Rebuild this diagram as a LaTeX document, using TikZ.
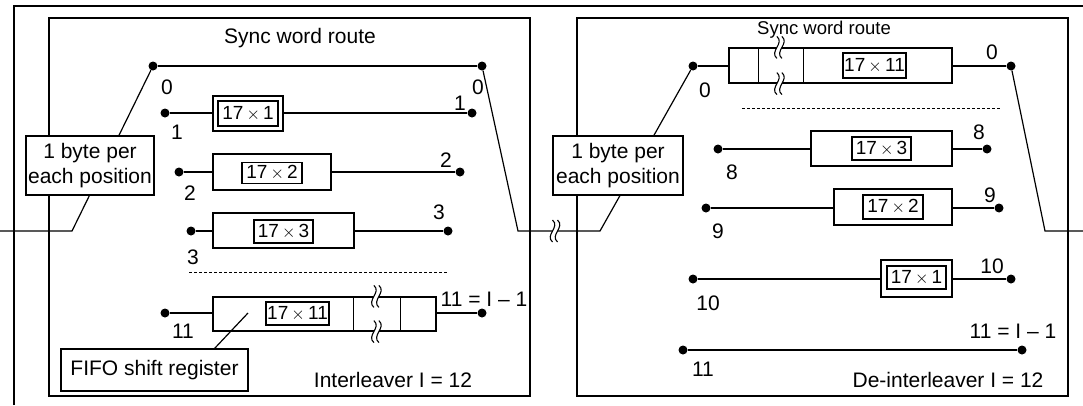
\documentclass[tikz,border=0pt]{standalone}
\usepackage{fontspec}
\setmainfont{Liberation Sans}
\newcommand{\tms}[2]{#1\,$\times$\,#2}
\begin{document}
\begin{tikzpicture}[x=1pt,y=-1pt,
  ln/.style={line width=1.2pt},
  jdot/.style={circle,fill=black,inner sep=0pt,minimum size=9pt},
  panel/.style={draw,line width=1.2pt,inner sep=0pt},
  reg/.style={draw,line width=1.2pt,fill=white,inner sep=0pt},
  ibox/.style={draw,line width=1.1pt,fill=white,inner sep=0pt,font=\fontsize{19}{22}\selectfont},
  lab/.style={inner sep=0pt,font=\fontsize{21}{25}\selectfont},
  note/.style={draw,line width=1.2pt,fill=white,inner sep=0pt,align=center,font=\fontsize{21}{25}\selectfont},
  dsh/.style={line width=0.9pt,dash pattern=on 3pt off 2pt},
  pics/brk/.style={code={
    \fill[white] (-2.5,-11) .. controls (5.5,-4) and (-10.5,4) .. (-2.5,11) -- (2.5,11) .. controls (-5.5,4) and (10.5,-4) .. (2.5,-11) -- cycle;
    \draw[line width=1.1pt] (-2.5,-11) .. controls (5.5,-4) and (-10.5,4) .. (-2.5,11);
    \draw[line width=1.1pt] (2.5,-11) .. controls (10.5,-4) and (-5.5,4) .. (2.5,11);
  }}
]
\useasboundingbox (0,0) rectangle (1083,405);

% outer frame
\coordinate (f1) at (14,405);
\coordinate (f2) at (14,6);
\coordinate (f3) at (1083,6);
\draw[ln] (f1) -- (f2) -- (f3);

% panels
\node[panel,minimum width=481pt,minimum height=378pt] (panelL) at (289.5,207) {};
\node[panel,minimum width=491pt,minimum height=378pt] (panelR) at (822.5,207) {};

% ---------------- Interleaver ----------------
\node[lab] (swL) at (300,38) {Sync word route};
\node[jdot] (p0a) at (153,66) {};
\node[jdot] (p0b) at (482,66) {};
\draw[ln] (p0a) -- (p0b);
\node[lab] (l0a) at (167,87) {0};
\node[lab] (l0b) at (478,87) {0};

% row 1
\node[jdot] (p1a) at (165,113) {};
\node[jdot] (p1b) at (472,113) {};
\node[reg,minimum width=70pt,minimum height=35pt] (r1) at (248,113.5) {};
\node[ibox,minimum width=60pt,minimum height=25pt] (i1) at (r1) {\tms{17}{1}};
\draw[ln] (p1a) -- (p1a -| r1.west);
\draw[ln] (r1.east |- p1b) -- (p1b);
\node[lab] (l1a) at (177,132) {1};
\node[lab] (l1b) at (460,103) {1};

% row 2
\node[jdot] (p2a) at (179,172) {};
\node[jdot] (p2b) at (460,172) {};
\node[reg,minimum width=118pt,minimum height=36pt] (r2) at (272,172) {};
\node[ibox,minimum width=60pt,minimum height=21pt] (i2) at (272,173) {\tms{17}{2}};
\draw[ln] (p2a) -- (p2a -| r2.west);
\draw[ln] (r2.east |- p2b) -- (p2b);
\node[lab] (l2a) at (190,193) {2};
\node[lab] (l2b) at (446,160) {2};

% row 3
\node[jdot] (p3a) at (191,231) {};
\node[jdot] (p3b) at (448,231) {};
\node[reg,minimum width=141pt,minimum height=35pt] (r3) at (283.5,230.5) {};
\node[ibox,minimum width=59pt,minimum height=23pt] (i3) at (283.5,231.5) {\tms{17}{3}};
\draw[ln] (p3a) -- (p3a -| r3.west);
\draw[ln] (r3.east |- p3b) -- (p3b);
\node[lab] (l3a) at (193,257) {3};
\node[lab] (l3b) at (439,212) {3};

\draw[dsh] (189,272) -- (447,272);

% row 11
\node[jdot] (p11a) at (165,313) {};
\node[jdot] (p11b) at (482,313) {};
\node[reg,minimum width=223pt,minimum height=34pt] (r11) at (324.5,314) {};
\draw[ln] ([xshift=141pt]r11.north west) -- ([xshift=141pt]r11.south west);
\draw[ln] ([xshift=188pt]r11.north west) -- ([xshift=188pt]r11.south west);
\node[ibox,minimum width=63pt,minimum height=23pt] (i11) at (297.5,313.5) {\tms{17}{11}};
\draw[ln] (p11a) -- (p11a -| r11.west);
\draw[ln] (r11.east |- p11b) -- (p11b);
\pic at ([xshift=164pt]r11.north west) {brk};
\pic at ([xshift=164pt]r11.south west) {brk};
\node[lab] (l11a) at (183,331) {11};
\node[lab] (l11b) at (484,299) {11 = I – 1};

% FIFO note
\node[note,minimum width=187pt,minimum height=42pt] (fifo) at (154.5,370) {FIFO shift register};
\coordinate (ptr) at (248,313);
\draw[ln] ([xshift=-34pt]fifo.north east) -- (ptr);
\node[lab] (ilv) at (393,380) {Interleaver I = 12};

% switches
\coordinate (inA) at (0,231);
\coordinate (inB) at (72,231);
\draw[ln] (inA) -- (inB) -- (p0a);
\node[note,minimum width=128pt,minimum height=59pt] (byteL) at (90,165.5) {1 byte per\\each position};

% ---------------- De-interleaver ----------------
\node[inner sep=0pt,font=\fontsize{18.5}{22}\selectfont] (swR) at (824,30) {Sync word route};
\node[jdot] (q0a) at (693,66) {};
\node[jdot] (q0b) at (1011,66) {};
\node[reg,minimum width=223pt,minimum height=35pt] (s0) at (840.5,65.5) {};
\draw[ln] ([xshift=30pt]s0.north west) -- ([xshift=30pt]s0.south west);
\draw[ln] ([xshift=75pt]s0.north west) -- ([xshift=75pt]s0.south west);
\node[ibox,minimum width=63pt,minimum height=25pt] (j0) at (874.5,65.5) {\tms{17}{11}};
\draw[ln] (q0a) -- (q0a -| s0.west);
\draw[ln] (s0.east |- q0b) -- (q0b);
\pic at ([xshift=51pt]s0.north west) {brk};
\pic at ([xshift=51pt]s0.south west) {brk};
\node[lab] (m0a) at (705,90) {0};
\node[lab] (m0b) at (992,52) {0};

\draw[dsh] (742,108) -- (1000,108);

% row 8
\node[jdot] (q8a) at (718,149) {};
\node[jdot] (q8b) at (987,149) {};
\node[reg,minimum width=141pt,minimum height=35pt] (s8) at (881.5,148.5) {};
\node[ibox,minimum width=59pt,minimum height=23pt] (j8) at (881.5,148.5) {\tms{17}{3}};
\draw[ln] (q8a) -- (q8a -| s8.west);
\draw[ln] (s8.east |- q8b) -- (q8b);
\node[lab] (m8a) at (732,172) {8};
\node[lab] (m8b) at (979,132) {8};

% row 9
\node[jdot] (q9a) at (706,208) {};
\node[jdot] (q9b) at (999,208) {};
\node[reg,minimum width=118pt,minimum height=36pt] (s9) at (893,207) {};
\node[ibox,minimum width=60pt,minimum height=24pt] (j9) at (893,207) {\tms{17}{2}};
\draw[ln] (q9a) -- (q9a -| s9.west);
\draw[ln] (s9.east |- q9b) -- (q9b);
\node[lab] (m9a) at (718,231) {9};
\node[lab] (m9b) at (990,195) {9};

% row 10
\node[jdot] (q10a) at (693,279) {};
\node[jdot] (q10b) at (1011,279) {};
\node[reg,minimum width=71pt,minimum height=37pt] (s10) at (916.5,278.5) {};
\node[ibox,minimum width=59pt,minimum height=23pt] (j10) at (916.5,277.5) {\tms{17}{1}};
\draw[ln] (q10a) -- (q10a -| s10.west);
\draw[ln] (s10.east |- q10b) -- (q10b);
\node[lab] (m10a) at (708,303) {10};
\node[lab] (m10b) at (992,266) {10};

% row 11
\node[jdot] (q11a) at (683,350) {};
\node[jdot] (q11b) at (1022,350) {};
\draw[ln] (q11a) -- (q11b);
\node[lab] (m11a) at (703,369) {11};
\node[lab] (m11b) at (1013,331) {11 = I – 1};

\node[lab] (dilv) at (948,380) {De-interleaver I = 12};

% middle and right switches
\coordinate (midA) at (518,231);
\coordinate (midB) at (600,231);
\draw[ln] (p0b) -- (midA) -- (midB) -- (q0a);
\pic at (555,231) {brk};
\node[note,minimum width=130pt,minimum height=59pt] (byteR) at (618,165.5) {1 byte per\\each position};
\coordinate (outA) at (1045,231);
\coordinate (outB) at (1083,231);
\draw[ln] (q0b) -- (outA) -- (outB);
\end{tikzpicture}
\end{document}
